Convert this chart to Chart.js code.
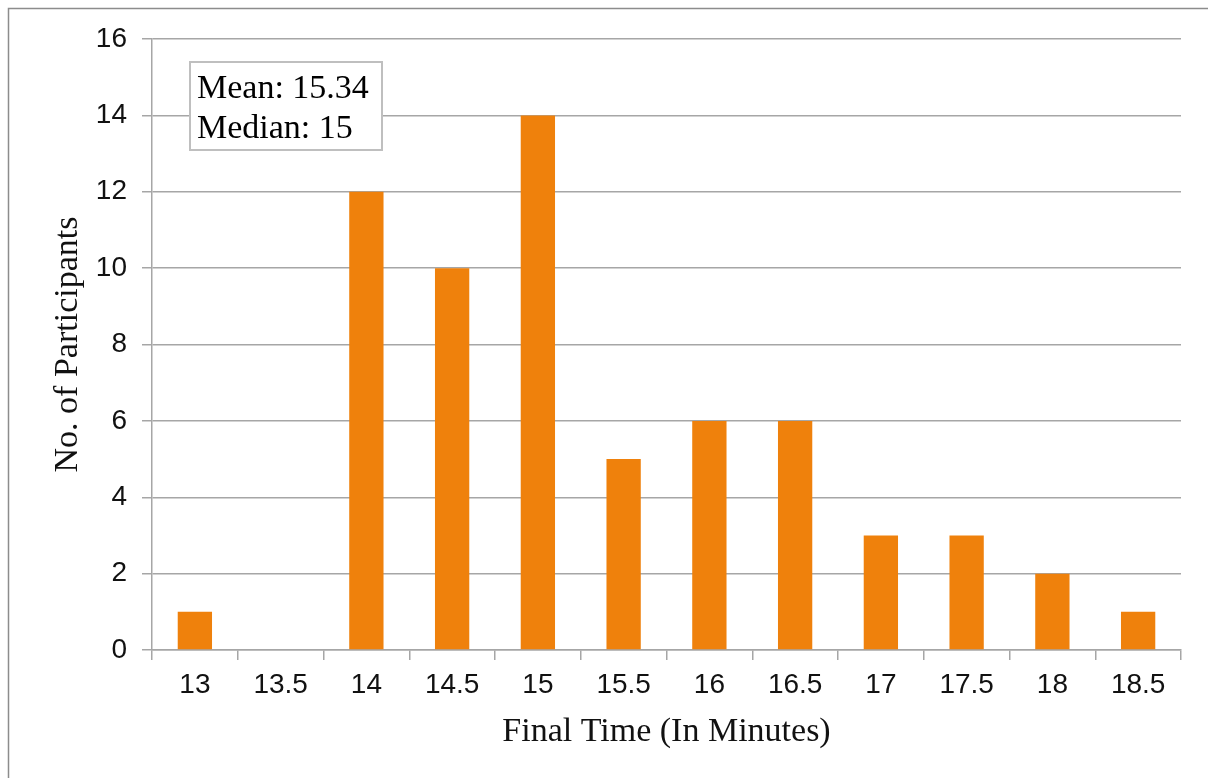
<!DOCTYPE html>
<html>
<head>
<meta charset="utf-8">
<script src="https://cdn.jsdelivr.net/npm/chart.js@4.4.0/dist/chart.umd.min.js"></script>
<style>
  html, body { margin: 0; padding: 0; background: #fff; }
  #wrap { width: 1208px; height: 778px; }
</style>
</head>
<body>
<div id="wrap"><canvas id="timeChart" width="1208" height="778"></canvas></div>
<script>
// Final time distribution (minutes -> participants)
const finalTimes = ['13', '13.5', '14', '14.5', '15', '15.5', '16', '16.5', '17', '17.5', '18', '18.5'];
const participants = [1, 0, 12, 10, 14, 5, 6, 6, 3, 3, 2, 1];
const statLines = ['Mean: 15.34', 'Median: 15'];

const gridGray = '#a6a6a6';

// outer frame + stats box
const extras = {
    id: 'extras',
    beforeDraw(chart) {
        const ctx = chart.ctx;
        ctx.save();
        ctx.fillStyle = '#fff';
        ctx.fillRect(0, 0, chart.width, chart.height);
        ctx.strokeStyle = '#8c8c8c';
        ctx.lineWidth = 1.5;
        ctx.beginPath();
        ctx.moveTo(8.5, chart.height);
        ctx.lineTo(8.5, 8.5);
        ctx.lineTo(chart.width, 8.5);
        ctx.stroke();
        ctx.restore();
    },
    afterDraw(chart) {
        const ctx = chart.ctx;
        ctx.save();
        ctx.fillStyle = '#fff';
        ctx.fillRect(190, 62, 192, 88);
        ctx.strokeStyle = '#bfbfbf';
        ctx.lineWidth = 2;
        ctx.strokeRect(190, 62, 192, 88);
        ctx.fillStyle = '#000';
        ctx.font = '34px "Liberation Serif", "Times New Roman", serif';
        ctx.textBaseline = 'middle';
        ctx.textAlign = 'left';
        statLines.forEach((t, i) => ctx.fillText(t, 197, 89 + i * 40));
        ctx.restore();
    }
};

const ctx = document.getElementById('timeChart').getContext('2d');
new Chart(ctx, {
    type: 'bar',
    data: {
        labels: finalTimes,
        datasets: [{
            data: participants,
            backgroundColor: '#ef810c',
            barPercentage: 0.4,
            categoryPercentage: 1.0
        }]
    },
    options: {
        responsive: false,
        animation: false,
        layout: { padding: { top: 39, right: 27, left: 0, bottom: 0 } },
        plugins: {
            legend: { display: false },
            tooltip: { enabled: false }
        },
        scales: {
            x: {
                afterFit(scale) { scale.height = 128; },
                grid: {
                    drawOnChartArea: false,
                    drawTicks: true,
                    tickLength: 10,
                    color: gridGray,
                    lineWidth: 1.5
                },
                border: { color: gridGray, width: 1.5 },
                ticks: {
                    color: '#111',
                    padding: 8,
                    font: { family: '"Liberation Sans", Arial, sans-serif', size: 28 }
                },
                title: {
                    display: true,
                    text: 'Final Time (In Minutes)',
                    color: '#111',
                    padding: { top: 0, bottom: 26 },
                    font: { family: '"Liberation Serif", "Times New Roman", serif', size: 34 }
                }
            },
            y: {
                min: 0,
                max: 16,
                afterFit(scale) { scale.width = 152; },
                grid: {
                    color: gridGray,
                    lineWidth: 1.5,
                    tickLength: 10
                },
                border: { color: gridGray, width: 1.5 },
                ticks: {
                    stepSize: 2,
                    color: '#111',
                    padding: 15,
                    font: { family: '"Liberation Sans", Arial, sans-serif', size: 28 }
                },
                title: {
                    display: true,
                    text: 'No. of Participants',
                    color: '#111',
                    padding: { top: 48, bottom: 0 },
                    font: { family: '"Liberation Serif", "Times New Roman", serif', size: 34 }
                }
            }
        }
    },
    plugins: [extras]
});
</script>
</body>
</html>
